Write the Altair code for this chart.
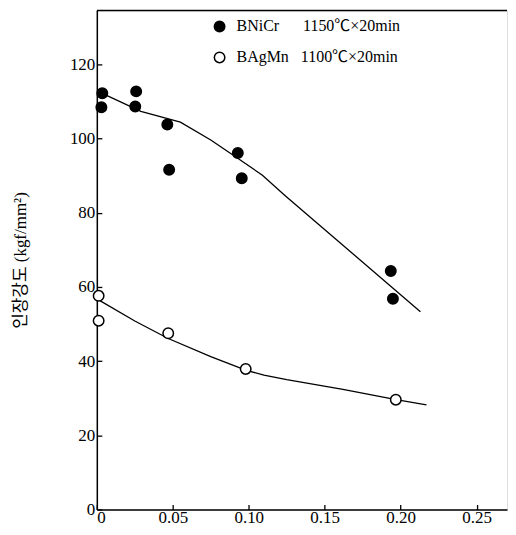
import altair as alt
import pandas as pd

# --- data ---
ni_x = [0.0036, 0.003, 0.0259, 0.0253, 0.0464, 0.0476, 0.0928, 0.0954, 0.1935, 0.1949]
ni_y = [112.2, 108.4, 112.7, 108.6, 103.8, 91.6, 96.1, 89.3, 64.3, 56.8]
ag_x = [0.0012, 0.0012, 0.047, 0.098, 0.1968]
ag_y = [57.6, 50.9, 47.5, 37.9, 29.6]

ni_line_x = [0.005, 0.029, 0.055, 0.075, 0.092, 0.109, 0.124, 0.213]
ni_line_y = [111.9, 107.3, 104.4, 99.6, 94.9, 90.1, 84.6, 53.3]
ag_line_x = [0.002, 0.025, 0.047, 0.075, 0.098, 0.110, 0.125, 0.162, 0.197, 0.217]
ag_line_y = [56.3, 50.8, 46.1, 41.2, 37.6, 36.2, 35.0, 32.4, 29.6, 28.2]

lab_ni = "BNiCr\u00a0\u00a0\u00a0\u00a0\u00a0\u00a01150\u2103\u00d720min"
lab_ag = "BAgMn\u00a0\u00a0\u00a01100\u2103\u00d720min"
series = [lab_ni, lab_ag]

x_ticks = [0, 0.05, 0.10, 0.15, 0.20, 0.25]
y_ticks = [0, 20, 40, 60, 80, 100, 120]
y_title = "인장강도 (kgf/mm\u00b2)"

pts = pd.DataFrame(
    {"x": ni_x + ag_x, "y": ni_y + ag_y,
     "s": [lab_ni] * len(ni_x) + [lab_ag] * len(ag_x)}
)
lines = pd.DataFrame(
    {"x": ni_line_x + ag_line_x, "y": ni_line_y + ag_line_y,
     "g": ["ni"] * len(ni_line_x) + ["ag"] * len(ag_line_x)}
)

W, H = 411, 500
FONT = "Liberation Serif, Noto Sans CJK KR"

xs = alt.Scale(domain=[0, 0.27], nice=False, zero=False)
ys = alt.Scale(domain=[0, 134.5], nice=False, zero=False)

xaxis = alt.Axis(values=x_ticks, grid=False, tickSize={"expr": "-5"},
                 labelExpr="datum.value == 0 ? '0' : format(datum.value, '.2f')",
                 labelPadding=5, title=None, labelFont=FONT, labelFontSize=17,
                 labelColor="black", domainColor="black", domainWidth=1.5,
                 tickColor="black", tickWidth=1.3)
yaxis = alt.Axis(values=y_ticks, grid=False, tickSize={"expr": "-5"},
                 labelPadding=7, title=y_title, titlePadding=40,
                 labelFont=FONT, labelFontSize=17, labelColor="black",
                 titleFontSize=17, titleFont=FONT, titleFontWeight="normal",
                 titleColor="black", domainColor="black", domainWidth=1.5,
                 tickColor="black", tickWidth=1.3)

line_layer = alt.Chart(lines).mark_line(
    color="black", strokeWidth=1.3, interpolate="linear"
).encode(
    x=alt.X("x:Q", scale=xs, axis=xaxis),
    y=alt.Y("y:Q", scale=ys, axis=yaxis),
    detail="g:N",
)

pt_layer = alt.Chart(pts).mark_point(
    filled=True, stroke="black", strokeWidth=1.5, size=110, shape="circle", opacity=1
).encode(
    x=alt.X("x:Q", scale=xs),
    y=alt.Y("y:Q", scale=ys),
    fill=alt.Fill("s:N", scale=alt.Scale(domain=series, range=["black", "white"]),
                  legend=alt.Legend(title=None, orient="none", legendX=115, legendY=8,
                                    symbolSize=110, symbolStrokeColor="black",
                                    symbolStrokeWidth=1.5, symbolType="circle",
                                    labelFont=FONT, labelFontSize=16, labelColor="black",
                                    labelOffset=9, labelLimit=400, rowPadding=13,
                                    padding=0)),
)

top_border = alt.Chart(pd.DataFrame({"a": [0]})).mark_rule(
    color="black", strokeWidth=1.5
).encode(x=alt.value(0), x2=alt.value(W), y=alt.value(0))

chart = alt.layer(line_layer, pt_layer, top_border).properties(
    width=W, height=H,
    padding={"left": 3, "top": 1, "right": 0, "bottom": 0},
).configure_view(stroke=None).configure(background="white")

chart.save("out.html", embed_options={"renderer": "svg", "actions": False})
